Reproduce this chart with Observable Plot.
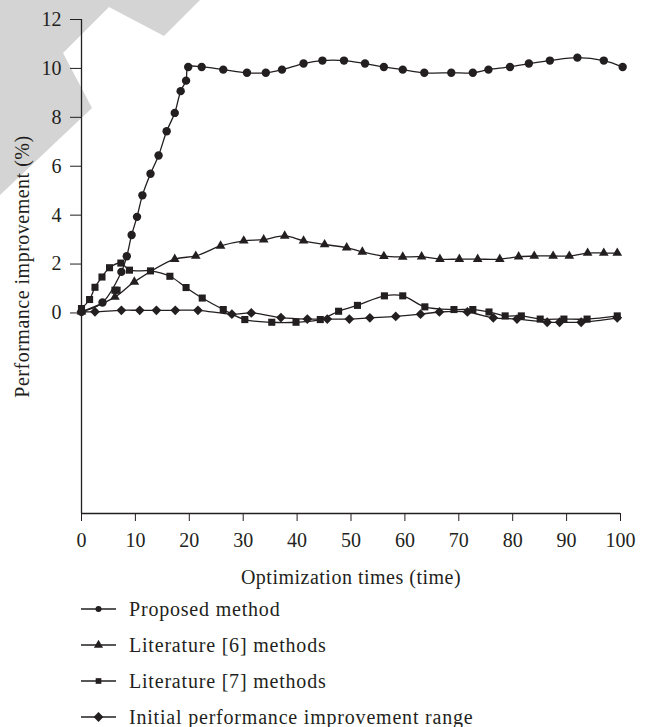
<!DOCTYPE html>
<html>
<head>
<meta charset="utf-8">
<script src="https://cdn.jsdelivr.net/npm/d3@7"></script>
<script src="https://cdn.jsdelivr.net/npm/@observablehq/plot@0.6"></script>
<style>
  body { margin: 0; background: #fff; font-family: "Liberation Serif", serif; color: #231f20; }
  #wrap { position: relative; width: 646px; }
  #wm { position: absolute; left: 0; top: 0; }
  #chart { position: relative; }
  .legend { padding-left: 81px; }
  .row { height: 36px; display: flex; align-items: center; font-size: 20px; letter-spacing: 0.8px; white-space: nowrap; }
  .row svg { margin-right: 13px; }
  #chart svg g[aria-label="x-axis label"] text, #chart svg g[aria-label="y-axis label"] text { letter-spacing: 0.5px; }
</style>
</head>
<body>
<div id="wrap">
  <svg id="wm" width="646" height="220"><polygon points="0,0 200,0 164,36 109,7 63,53 92,108 0,195" fill="#d4d4d4"/></svg>
  <div id="chart"></div>
  <div class="legend" id="legend"></div>
</div>
<script>
const ink = "#231f20";

const xTicks = [0, 10, 20, 30, 40, 50, 60, 70, 80, 90, 100];
const yTicks = [0, 2, 4, 6, 8, 10, 12];
const yMin = -8.2, yMax = 12;

const seriesNames = [
  "Proposed method",
  "Literature [6] methods",
  "Literature [7] methods",
  "Initial performance improvement range"
];

const proposed = [
  [0, 0.05], [3.9, 0.43], [7.4, 1.68], [8.4, 2.32], [9.3, 3.19], [10.3, 3.93], [11.3, 4.81],
  [12.8, 5.69], [14.3, 6.44], [15.8, 7.43], [17.3, 8.18], [18.4, 9.07], [19.4, 9.5], [19.8, 10.06],
  [22.3, 10.06], [26.3, 9.95], [30.7, 9.82], [34.2, 9.82], [37.2, 9.95], [41.2, 10.2], [44.7, 10.32],
  [48.7, 10.32], [52.6, 10.2], [56.1, 10.06], [59.6, 9.95], [63.6, 9.82], [68.6, 9.82], [72.6, 9.82],
  [75.5, 9.95], [79.5, 10.06], [83.0, 10.2], [86.9, 10.32], [92.0, 10.44], [96.9, 10.32], [100.4, 10.06]
];

const lit6 = [
  [0, 0.05], [6.2, 0.65], [9.8, 1.27], [17.3, 2.2], [21.2, 2.33], [25.8, 2.74], [30.1, 2.95],
  [33.8, 3.0], [37.7, 3.15], [41.2, 2.95], [45.1, 2.8], [49.2, 2.67], [52.1, 2.5], [56.1, 2.32],
  [59.6, 2.29], [63.1, 2.3], [66.5, 2.2], [70.1, 2.2], [73.5, 2.2], [77.6, 2.2], [81.1, 2.3],
  [84.0, 2.33], [87.5, 2.33], [90.5, 2.33], [93.9, 2.45], [96.9, 2.45], [99.4, 2.45]
];

const lit7 = [
  [0, 0.18], [1.5, 0.55], [2.5, 1.05], [3.8, 1.47], [5.2, 1.85], [7.3, 2.04], [8.9, 1.75],
  [12.8, 1.72], [16.4, 1.5], [19.4, 1.04], [22.4, 0.61], [26.3, 0.14], [30.3, -0.27], [35.3, -0.38],
  [39.8, -0.38], [44.3, -0.27], [47.7, 0.07], [51.2, 0.31], [56.2, 0.70], [59.6, 0.70], [63.7, 0.25],
  [69.1, 0.14], [72.6, 0.14], [75.6, 0.04], [78.6, -0.12], [81.6, -0.12], [85.1, -0.25], [89.5, -0.25],
  [93.8, -0.25], [99.4, -0.12]
];
const lit7Stray = [[6.2, 0.93], [6.6, 0.93]];

const initial = [
  [0, 0.05], [2.5, 0.05], [7.4, 0.11], [10.8, 0.11], [13.9, 0.11], [17.4, 0.11], [21.6, 0.11],
  [27.9, -0.05], [31.5, 0.0], [37.0, -0.19], [41.9, -0.25], [45.6, -0.25], [49.7, -0.25], [53.5, -0.2],
  [58.3, -0.14], [62.9, -0.05], [66.4, 0.04], [71.6, 0.04], [76.4, -0.2], [80.8, -0.25], [86.4, -0.38],
  [88.7, -0.38], [92.7, -0.38], [99.4, -0.2]
];

const symbols = ["circle", "triangle", "square", "diamond2"];
const radii = [4.2, 3.6, 4.0, 4.4];
const seriesData = [proposed, lit6, lit7, initial];

const toRows = (pts, name) => pts.map(([x, y]) => ({ series: name, x, y }));

const marks = [
  Plot.ruleX([0], { stroke: ink, strokeWidth: 1.3 }),
  Plot.ruleY([yMin], { stroke: ink, strokeWidth: 1.3 }),
  Plot.axisX({ ticks: xTicks, tickSize: 8, tickPadding: 11, tickFormat: d => String(d),
    label: "Optimization times (time)", labelAnchor: "center", labelOffset: 70, labelArrow: "none" }),
  Plot.axisY({ ticks: yTicks, tickSize: 11, tickPadding: 9, tickFormat: d => String(d),
    label: "Performance improvement (%)", labelAnchor: "center", labelOffset: 67, labelArrow: "none" })
];
seriesData.forEach((pts, i) => {
  const rows = toRows(pts, seriesNames[i]);
  marks.push(Plot.line(rows, { x: "x", y: "y", curve: "catmull-rom", stroke: ink, strokeWidth: 1.3 }));
});
seriesData.forEach((pts, i) => {
  const rows = toRows(pts, seriesNames[i]);
  marks.push(Plot.dot(rows, { x: "x", y: "y", symbol: () => symbols[i], r: radii[i], fill: ink, stroke: "none" }));
});
marks.push(Plot.dot(toRows(lit7Stray, seriesNames[2]), { x: "x", y: "y", symbol: () => "square", r: radii[2], fill: ink, stroke: "none" }));

const chart = Plot.plot({
  width: 646,
  height: 591,
  marginLeft: 81,
  marginRight: 26,
  marginTop: 19,
  marginBottom: 78,
  style: { fontFamily: "Liberation Serif", fontSize: "20px", color: ink, background: "transparent", overflow: "visible" },
  x: { domain: [0, 100] },
  y: { domain: [yMin, yMax] },
  symbol: { type: "identity" },
  marks
});
document.getElementById("chart").appendChild(chart);

// legend
const legend = d3.select("#legend");
const legendR = [3.0, 3.4, 3.2, 4.4];
seriesNames.forEach((name, i) => {
  const row = legend.append("div").attr("class", "row");
  const s = row.append("svg").attr("width", 35).attr("height", 14);
  s.append("line").attr("x1", 0).attr("x2", 35).attr("y1", 7).attr("y2", 7).attr("stroke", ink).attr("stroke-width", 1.3);
  const sym = { circle: d3.symbolCircle, triangle: d3.symbolTriangle, square: d3.symbolSquare, diamond2: d3.symbolDiamond2 }[symbols[i]];
  s.append("path").attr("transform", "translate(17.5,7)")
    .attr("d", d3.symbol(sym, Math.PI * legendR[i] * legendR[i])())
    .attr("fill", ink);
  row.append("span").text(name);
});
</script>
</body>
</html>
